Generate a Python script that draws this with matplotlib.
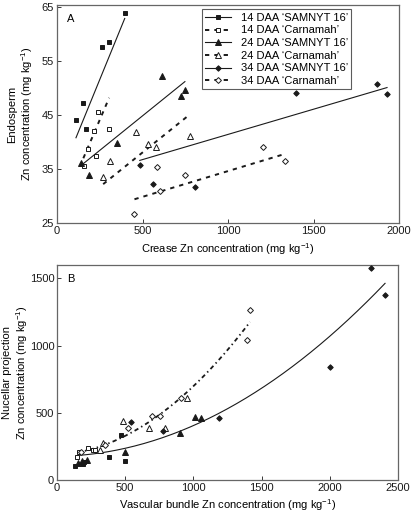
import matplotlib
matplotlib.use("Agg")
import matplotlib.pyplot as plt
import numpy as np

plt.rcParams['font.family'] = ['Liberation Sans', 'DejaVu Sans']
plt.rcParams['mathtext.fontset'] = 'custom'
plt.rcParams['mathtext.rm'] = 'Liberation Sans'

# ---------------- Panel A data ----------------
series_labels = ["14 DAA \u2018SAMNYT 16\u2019", "14 DAA \u2018Carnamah\u2019",
                 "24 DAA \u2018SAMNYT 16\u2019", "24 DAA \u2018Carnamah\u2019",
                 "34 DAA \u2018SAMNYT 16\u2019", "34 DAA \u2018Carnamah\u2019"]

a14s_x = [111, 154, 167, 266, 307, 396]
a14s_y = [44.1, 47.2, 42.4, 57.6, 58.6, 63.9]
a14c_x = [159, 183, 214, 241, 229, 305]
a14c_y = [35.5, 38.8, 42.0, 45.6, 37.5, 42.4]
a24s_x = [142, 185, 350, 616, 727, 747]
a24s_y = [36.1, 33.9, 39.9, 52.2, 48.5, 49.6]
a24c_x = [270, 309, 463, 531, 579, 776]
a24c_y = [33.5, 36.5, 41.9, 39.7, 39.0, 41.2]
a34s_x = [484, 564, 809, 1399, 1870, 1930]
a34s_y = [35.7, 32.3, 31.7, 49.0, 50.7, 48.9]
a34c_x = [453, 602, 585, 750, 1207, 1333]
a34c_y = [26.6, 30.9, 35.4, 33.9, 39.0, 36.4]

# regression lines: x start, x end, y start, y end
a14s_line = [111, 396, 40.8, 62.9]
a14c_line = [154, 305, 37.0, 48.2]
a24s_line = [150, 748, 35.9, 51.2]
a24c_line = [270, 776, 32.2, 45.1]
a34s_line = [484, 1930, 36.6, 50.1]
a34c_line = [453, 1333, 29.4, 37.8]

# ---------------- Panel B data ----------------
b14s_x = [129, 190, 200, 380, 468, 495]
b14s_y = [105, 122, 132, 168, 335, 138]
b14c_x = [146, 163, 227, 262, 278]
b14c_y = [172, 206, 235, 225, 222]
b24s_x = [155, 183, 220, 495, 900, 1012, 1058]
b24s_y = [128, 144, 150, 210, 352, 470, 462]
b24c_x = [312, 340, 487, 677, 795, 950]
b24c_y = [222, 278, 440, 390, 390, 612]
b34s_x = [541, 780, 1190, 2000, 2300, 2405]
b34s_y = [430, 362, 460, 840, 1578, 1380]
b34c_x = [175, 355, 519, 700, 752, 910, 1393, 1415]
b34c_y = [205, 258, 388, 480, 476, 609, 1040, 1268]

# fitted quadratic curves: coefficients (c0, c1, c2) and x range
bS_coef = [176.0, 0.011, 0.000218]
bS_range = [150, 2405]
bC_coef = [185.0, 0.061, 0.000452]
bC_range = [150, 1415]

# ---------------- styling ----------------
ink = '#1a1a1a'
dash = (0, (2.2, 2.6))
dashdot = (0, (2.4, 1.8, 0.8, 1.8))

fig = plt.figure(figsize=(4.11, 5.13), dpi=100)
axA = fig.add_axes([57/411, 1-223/513, 342/411, 218/513])
axB = fig.add_axes([57/411, 1-480/513, 341/411, 215/513])

styles = [
    dict(marker='s', mfc=ink, mec=ink, ms=3.4, ls='-'),
    dict(marker='s', mfc='white', mec=ink, ms=3.4, ls=dash),
    dict(marker='^', mfc=ink, mec=ink, ms=3.8, ls='-'),
    dict(marker='^', mfc='white', mec=ink, ms=3.8, ls=dash),
    dict(marker='D', mfc=ink, mec=ink, ms=2.8, ls='-'),
    dict(marker='D', mfc='white', mec=ink, ms=3.0, ls=dash),
]

A_pts = [(a14s_x, a14s_y), (a14c_x, a14c_y), (a24s_x, a24s_y),
         (a24c_x, a24c_y), (a34s_x, a34s_y), (a34c_x, a34c_y)]
A_lines = [a14s_line, a14c_line, a24s_line, a24c_line, a34s_line, a34c_line]

handles = []
for (x, y), ln, st, lab in zip(A_pts, A_lines, styles, series_labels):
    axA.plot(x, y, linestyle='none', marker=st['marker'], mfc=st['mfc'],
             mec=st['mec'], ms=st['ms'], mew=0.7, zorder=3)
    lw = 0.8 if st['ls'] == '-' else 1.4
    axA.plot([ln[0], ln[1]], [ln[2], ln[3]], color=ink, lw=lw, ls=st['ls'], zorder=2)
    h, = axA.plot([], [], color=ink, lw=lw, ls=st['ls'], marker=st['marker'],
                  mfc=st['mfc'], mec=st['mec'], ms=st['ms'], mew=0.7)
    handles.append(h)

leg = axA.legend(handles, series_labels, loc='upper right', fontsize=8,
                 frameon=True, fancybox=False, edgecolor='#333333',
                 handlelength=2.3, handletextpad=0.9, labelspacing=0.24,
                 borderpad=0.3, borderaxespad=0.3, bbox_to_anchor=(0.87, 0.995))
leg.get_frame().set_linewidth(0.8)

axA.set_xlim(0, 2000)
axA.set_ylim(25, 65.4)
axA.set_xticks([0, 500, 1000, 1500, 2000])
axA.set_yticks([25, 35, 45, 55, 65])
axA.set_xlabel('Crease Zn concentration (mg kg$^{-1}$)', fontsize=8, labelpad=4)
axA.set_ylabel('Endosperm\nZn concentration (mg kg$^{-1}$)', fontsize=8)
axA.yaxis.set_label_coords(-0.063, 0.5)
axA.text(0.03, 0.96, 'A', transform=axA.transAxes, fontsize=8, va='top', ha='left')

B_pts = [(b14s_x, b14s_y), (b14c_x, b14c_y), (b24s_x, b24s_y),
         (b24c_x, b24c_y), (b34s_x, b34s_y), (b34c_x, b34c_y)]
for (x, y), st in zip(B_pts, styles):
    axB.plot(x, y, linestyle='none', marker=st['marker'], mfc=st['mfc'],
             mec=st['mec'], ms=st['ms'], mew=0.7, zorder=3)

xs = np.linspace(bS_range[0], bS_range[1], 200)
axB.plot(xs, bS_coef[0] + bS_coef[1]*xs + bS_coef[2]*xs**2, color=ink, lw=0.8, zorder=2)
xc = np.linspace(bC_range[0], bC_range[1], 200)
axB.plot(xc, bC_coef[0] + bC_coef[1]*xc + bC_coef[2]*xc**2, color=ink, lw=1.3,
         ls=dashdot, zorder=2)

axB.set_xlim(0, 2500)
axB.set_ylim(0, 1600)
axB.set_xticks([0, 500, 1000, 1500, 2000, 2500])
axB.set_yticks([0, 500, 1000, 1500])
axB.set_xlabel('Vascular bundle Zn concentration (mg kg$^{-1}$)', fontsize=8, labelpad=3)
axB.set_ylabel('Nucellar projection\nZn concentration (mg kg$^{-1}$)', fontsize=8)
axB.yaxis.set_label_coords(-0.079, 0.5)
axB.text(0.03, 0.96, 'B', transform=axB.transAxes, fontsize=8, va='top', ha='left')

for ax in (axA, axB):
    ax.tick_params(direction='in', length=3, width=0.6, labelsize=8, colors=ink,
                   pad=2)
    for sp in ax.spines.values():
        sp.set_color('#666666')
        sp.set_linewidth(0.9)

fig.savefig('out.png', dpi=100)
